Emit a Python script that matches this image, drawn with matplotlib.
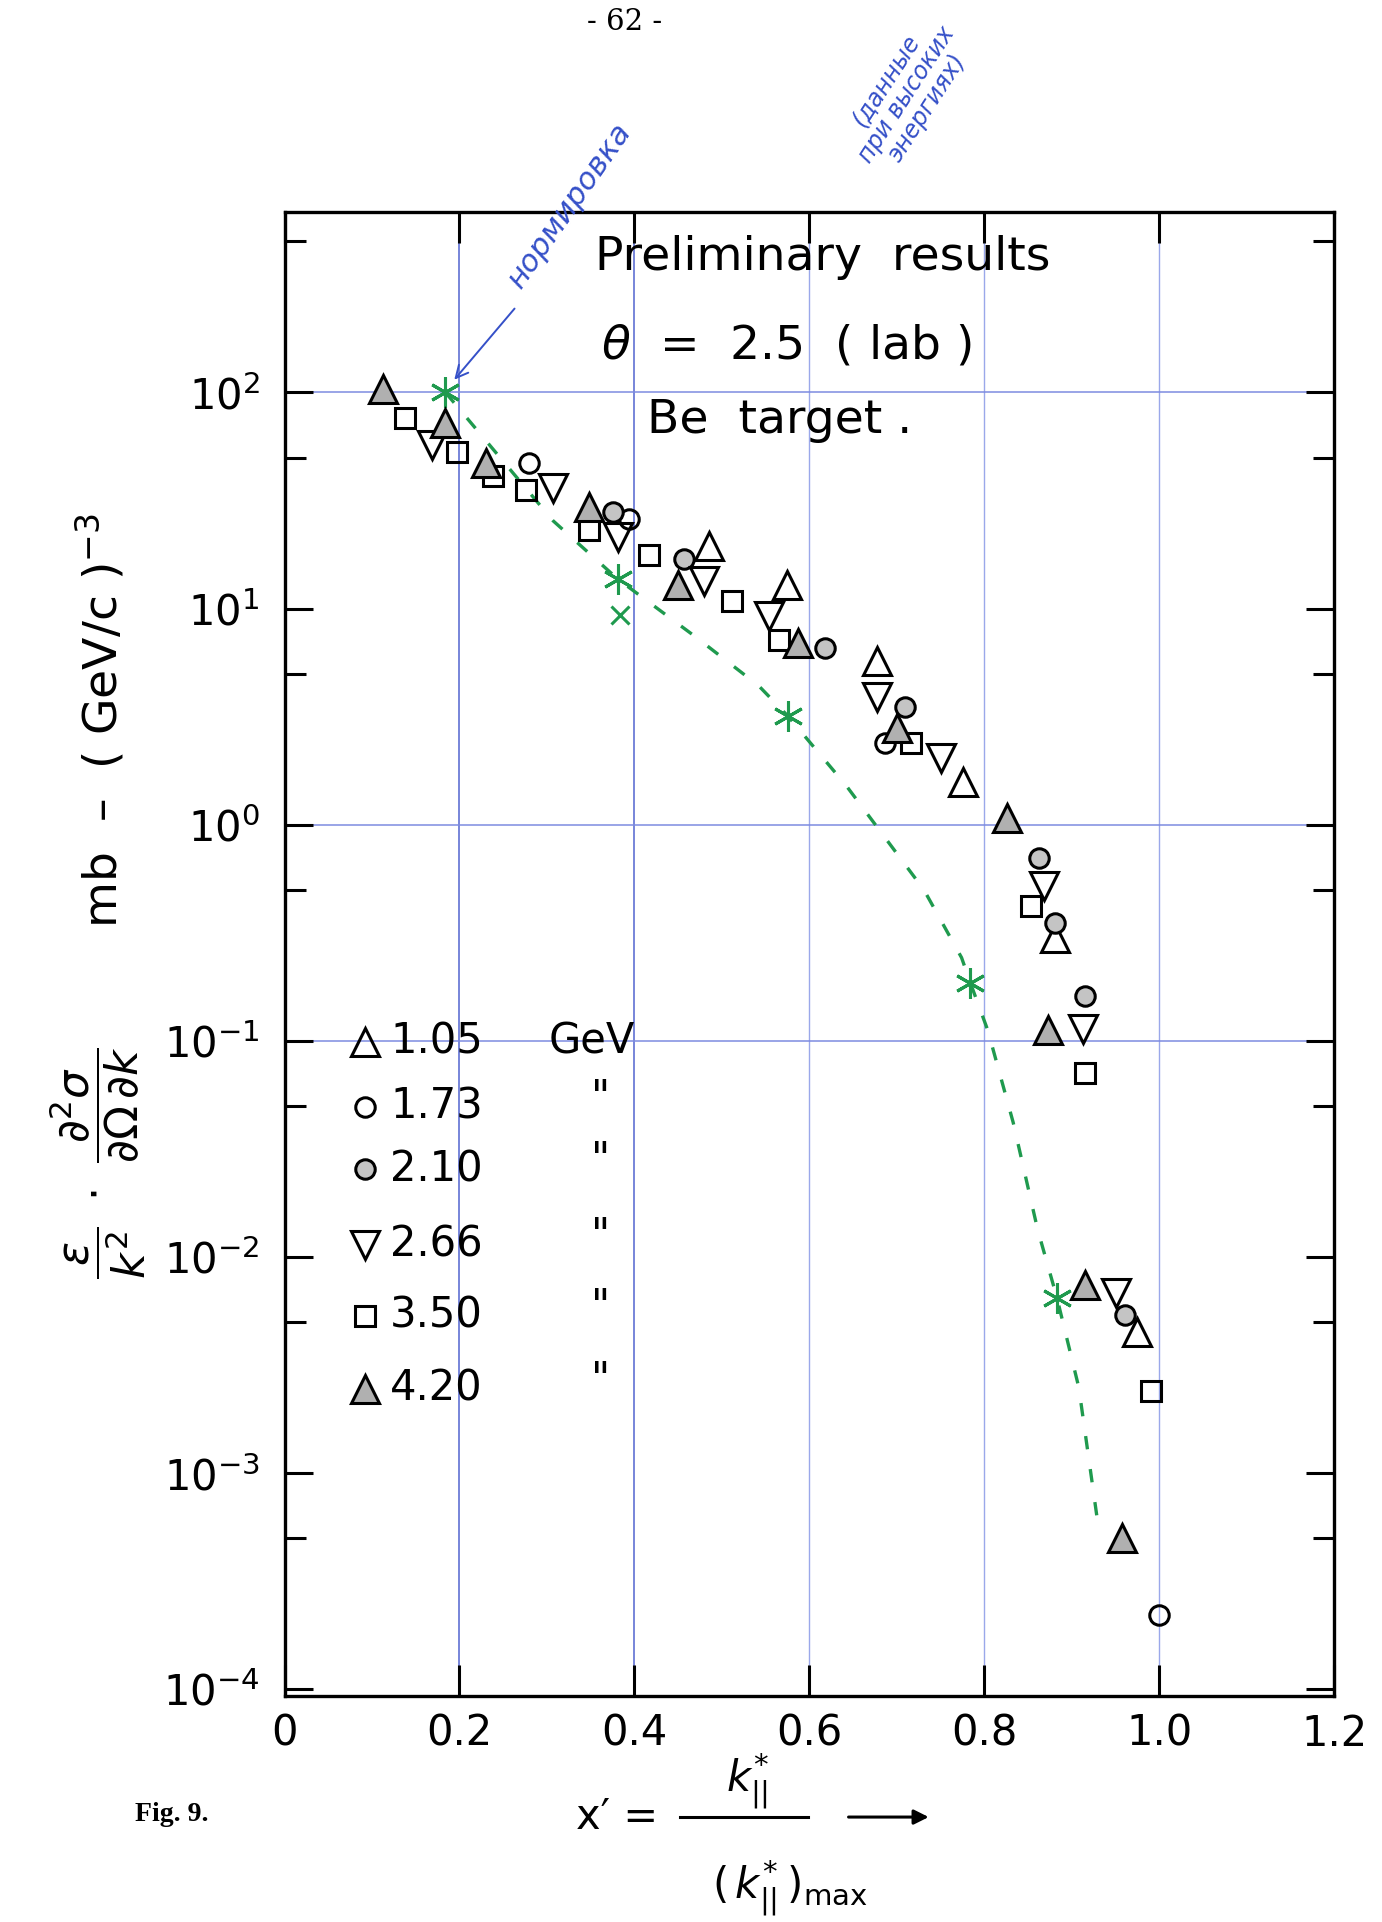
import numpy as np
import matplotlib
matplotlib.use("Agg")
import matplotlib.pyplot as plt
from matplotlib.ticker import FixedLocator, NullFormatter, FuncFormatter
from matplotlib.lines import Line2D
from matplotlib.patches import FancyArrowPatch

plt.rcParams['font.family'] = ['DejaVu Sans']
plt.rcParams['mathtext.fontset'] = 'dejavusans'

# ---------------- data ----------------
energies = ["1.05", "1.73", "2.10", "2.66", "3.50", "4.20"]

x_105 = [0.485, 0.574, 0.677, 0.776, 0.881, 0.975]
y_105 = [19.5, 12.8, 5.7, 1.57, 0.30, 0.0045]

x_173 = [0.279, 0.394, 0.687, 1.000]
y_173 = [47, 26, 2.4, 0.00022]

x_210 = [0.376, 0.457, 0.618, 0.709, 0.863, 0.881, 0.915, 0.961]
y_210 = [28, 17, 6.6, 3.5, 0.70, 0.35, 0.161, 0.0054]

x_266 = [0.169, 0.307, 0.381, 0.480, 0.554, 0.677, 0.751, 0.868, 0.913, 0.950]
y_266 = [57, 36, 21.5, 13.4, 9.2, 3.9, 2.04, 0.52, 0.114, 0.0068]

x_350 = [0.138, 0.197, 0.238, 0.276, 0.348, 0.417, 0.511, 0.565, 0.716, 0.853, 0.915, 0.991]
y_350 = [76, 53, 41, 35.5, 23.2, 17.8, 10.8, 7.2, 2.4, 0.42, 0.071, 0.0024]

x_420 = [0.112, 0.183, 0.230, 0.348, 0.450, 0.587, 0.700, 0.826, 0.873, 0.915, 0.957]
y_420 = [104, 72, 47, 29.5, 12.8, 6.9, 2.8, 1.08, 0.112, 0.0074, 0.0005]

# green normalisation curve (hand drawn) and its marked points
curve_x = [0.184, 0.307, 0.381, 0.470, 0.542, 0.575, 0.642, 0.684, 0.731, 0.774,
           0.784, 0.804, 0.833, 0.861, 0.883, 0.908, 0.929]
curve_y = [100, 25.5, 13.7, 7.4, 4.4, 3.2, 1.52, 0.90, 0.50, 0.243,
           0.186, 0.112, 0.042, 0.0134, 0.0065, 0.0025, 0.00062]
star_x = [0.184, 0.381, 0.575, 0.784, 0.883]
star_y = [100, 13.7, 3.2, 0.186, 0.0065]
cross_x = [0.383]
cross_y = [9.3]

x_ticks = [0, 0.2, 0.4, 0.6, 0.8, 1.0, 1.2]
x_tick_labels = ["0", "0.2", "0.4", "0.6", "0.8", "1.0", "1.2"]
y_decades = [-4, -3, -2, -1, 0, 1, 2]
y_minor = [5e-4, 5e-3, 5e-2, 5e-1, 5, 50, 500]

# hand-drawn blue guide lines
vline_x_dark = [0.2, 0.4]
vline_x_light = [0.6, 0.8, 1.0]
hline_y = [100, 1, 0.1]

# ---------------- figure ----------------
fig = plt.figure(figsize=(13.82, 19.22), dpi=100)
ax = fig.add_axes([0.2059, 0.1176, 0.7595, 0.7721])
ax.set_xlim(0, 1.2)
ax.set_yscale('log')
ax.set_ylim(10 ** -4.03, 10 ** 2.835)

blue_dark = '#4458cc'
blue_light = '#9aa8ea'
for xv in vline_x_dark:
    ax.axvline(xv, color=blue_dark, lw=1.2, alpha=0.85, zorder=1)
for xv in vline_x_light:
    ax.axvline(xv, color=blue_light, lw=1.0, zorder=1)
for yv in hline_y:
    ax.axhline(yv, color='#7d8be0', lw=1.1, zorder=1)

# green curve
green = '#1f9a4e'
ax.plot(curve_x, curve_y, color=green, lw=2.4, ls=(0, (4, 6)), zorder=2)
ax.plot(star_x, star_y, ls='none', marker=(6, 2, 0), ms=22, mec=green, mew=2.2, zorder=3)
ax.plot(cross_x, cross_y, ls='none', marker='x', ms=13, mec=green, mew=2.2, zorder=3)

styles = [
    dict(marker='^', ms=20, mfc='none', mec='black', mew=2.2),
    dict(marker='o', ms=14, mfc='none', mec='black', mew=2.2),
    dict(marker='o', ms=14, mfc='#c4c4c4', mec='black', mew=2.2),
    dict(marker='v', ms=20, mfc='none', mec='black', mew=2.2),
    dict(marker='s', ms=14, mfc='none', mec='black', mew=2.2),
    dict(marker='^', ms=20, mfc='#b0b0b0', mec='black', mew=2.2),
]
series = [(x_105, y_105), (x_173, y_173), (x_210, y_210),
          (x_266, y_266), (x_350, y_350), (x_420, y_420)]
for (xs, ys), st in zip(series, styles):
    ax.plot(xs, ys, ls='none', zorder=4, **st)

# ---------------- axes styling ----------------
for sp in ax.spines.values():
    sp.set_linewidth(2.4)
ax.set_xticks(x_ticks)
ax.set_xticklabels(x_tick_labels)
ax.yaxis.set_major_locator(FixedLocator([10.0 ** d for d in y_decades]))
ax.yaxis.set_major_formatter(FuncFormatter(
    lambda v, p: r"$10^{%d}$" % int(round(np.log10(v)))))
ax.yaxis.set_minor_locator(FixedLocator(y_minor))
ax.yaxis.set_minor_formatter(NullFormatter())
ax.tick_params(axis='x', which='major', direction='in', length=22, width=2.2,
               top=True, bottom=True, labelsize=30, pad=12)
ax.tick_params(axis='y', which='major', direction='in', length=20, width=2.2,
               left=True, right=True, labelsize=30, pad=18)
ax.tick_params(axis='y', which='minor', direction='in', length=15, width=2.2,
               left=True, right=True)

# ---------------- in-plot text ----------------
fig.text(0.4305, 0.8595, "Preliminary  results", fontsize=34, va='baseline', ha='left')
fig.text(0.435, 0.8137, r"$\theta$  =  2.5  ( lab )", fontsize=34, va='baseline', ha='left')
fig.text(0.4685, 0.7747, "Be  target .", fontsize=34, va='baseline', ha='left')

# legend drawn as a lettered table like the original
leg_rows = [0.4407, 0.3969, 0.3551, 0.3039, 0.2561, 0.2069]
for i, (lab, st) in enumerate(zip(energies, styles)):
    ax.plot([0.0767], [leg_rows[i]], transform=ax.transAxes, ls='none',
            clip_on=False, zorder=5, **st)
    ax.text(0.1005, leg_rows[i], lab, transform=ax.transAxes, fontsize=30,
            va='center', ha='left')
    if i == 0:
        ax.text(0.252, leg_rows[i], "GeV", transform=ax.transAxes, fontsize=30,
                va='center', ha='left')
    else:
        ax.text(0.3015, leg_rows[i] + 0.006, '"', transform=ax.transAxes,
                fontsize=30, va='center', ha='center')

# handwritten blue notes
ink = '#3550c8'
fig.text(0.412, 0.893, "нормировка", fontsize=22, color=ink, style='italic',
         rotation=55, ha='center', va='center')
fig.text(0.656, 0.951, "(данные\nпри высоких\nэнергиях)", fontsize=17,
         color=ink, style='italic', rotation=57, ha='center', va='center',
         linespacing=1.05)
ax.annotate('', xy=(0.192, 112), xytext=(0.265, 250),
            arrowprops=dict(arrowstyle='->', color=ink, lw=1.4,
                            mutation_scale=22))

# ---------------- page texts / axis labels ----------------
fig.text(0.4522, 0.9886, "- 62 -", fontsize=21, family='DejaVu Serif',
         ha='center', va='center')
fig.text(0.0977, 0.0557, "Fig. 9.", fontsize=20, family='Liberation Serif',
         weight='bold', ha='left', va='center')

fig.text(0.4168, 0.0546, "x′ =", fontsize=30, ha='left', va='center')
fig.text(0.5412, 0.0735, r"$k^{*}_{||}$", fontsize=30, ha='center', va='center')
fig.add_artist(Line2D([0.492, 0.585], [0.0546, 0.0546], transform=fig.transFigure,
                      color='black', lw=2.2))
fig.text(0.5716, 0.0125, r"$(\,k^{*}_{||}\,)_{\mathrm{max}}$", fontsize=30,
         ha='center', va='baseline')
fig.add_artist(FancyArrowPatch(
    (0.612, 0.0546), (0.674, 0.0546), transform=fig.transFigure,
    arrowstyle='-|>', mutation_scale=22, color='black', lw=2.2))

fig.text(0.073, 0.6254, r"mb  –  ( GeV/c )$^{-3}$", fontsize=34, rotation=90,
         ha='center', va='center')
fig.text(0.071, 0.395,
         r"$\dfrac{\epsilon}{k^2}\ \cdot\ \dfrac{\partial^2\sigma}{\partial\Omega\,\partial k}$",
         fontsize=32, rotation=90, ha='center', va='center')

fig.savefig("out.png", dpi=100)
